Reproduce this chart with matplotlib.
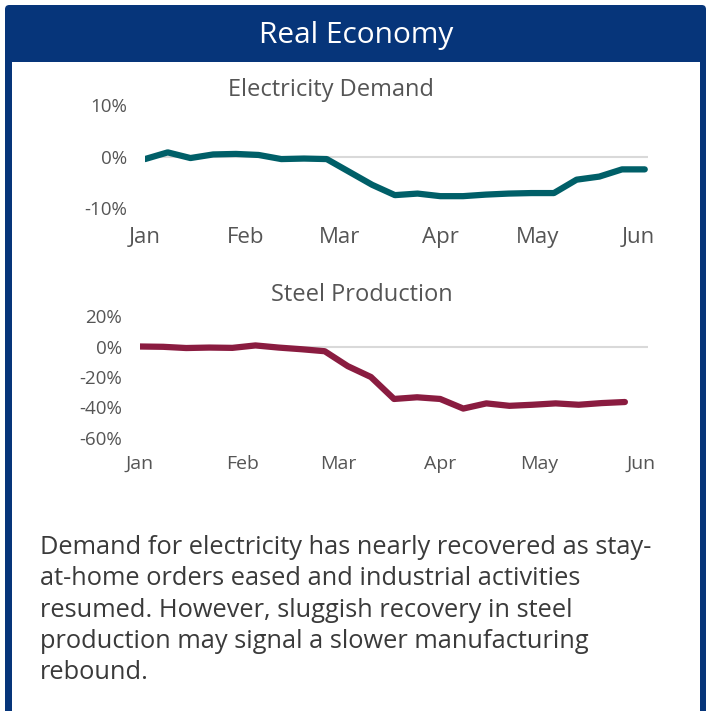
import numpy as np
import matplotlib.pyplot as plt
import matplotlib.dates as mdates
from matplotlib.patches import Rectangle, FancyBboxPatch

# weekly readings, % change year over year
elec_dates = np.arange(np.datetime64('2020-01-01'), np.datetime64('2020-06-04'), np.timedelta64(7, 'D'))
elec_vals = [-0.5, 0.8, -0.3, 0.4, 0.5, 0.3, -0.5, -0.4, -0.5, -3.0, -5.5, -7.5,
             -7.2, -7.7, -7.7, -7.4, -7.2, -7.1, -7.1, -4.5, -3.9, -2.5, -2.5]

steel_dates = np.arange(np.datetime64('2020-01-01'), np.datetime64('2020-05-28'), np.timedelta64(7, 'D'))
steel_vals = [0.0, -0.2, -1.0, -0.7, -0.9, 0.7, -0.7, -1.8, -3.1, -12.9, -20.0, -34.4,
              -33.3, -34.4, -40.7, -37.3, -38.9, -38.2, -37.3, -38.2, -37.1, -36.4]

elec_ticks = [10, 0, -10]
steel_ticks = [20, 0, -20, -40, -60]

body = ("Demand for electricity has nearly recovered as stay-\n"
        "at-home orders eased and industrial activities\n"
        "resumed. However, sluggish recovery in steel\n"
        "production may signal a slower manufacturing\n"
        "rebound.")

plt.rcParams['font.family'] = ['Open Sans', 'DejaVu Sans']
NAVY = '#06357a'
GREY = '#555555'

W, H = 710, 711
fig = plt.figure(figsize=(W / 100, H / 100), dpi=100)


def box(x0, y0, x1, y1):
    # pixel box (top-left origin) -> figure fraction rect
    return [x0 / W, 1 - y1 / H, (x1 - x0) / W, (y1 - y0) / H]


# card frame
fig.patches.append(FancyBboxPatch((5 / W, -0.05), 701 / W, 1 - 5 / H + 0.05,
                                  boxstyle='round,pad=0,rounding_size=0.006',
                                  transform=fig.transFigure, facecolor=NAVY,
                                  edgecolor='none', zorder=-2))
fig.patches.append(Rectangle((12 / W, -0.05), 688 / W, 1 - 62 / H + 0.05,
                             transform=fig.transFigure, facecolor='white',
                             edgecolor='none', zorder=-1))
fig.text(356 / W, 1 - 35 / H, 'Real Economy', color='white', fontsize=21.5,
         ha='center', va='center')


def small_chart(rect, dates, vals, color, ticks, ylim, end, xfs, xpad):
    ax = fig.add_axes(rect)
    ax.axhline(0, color='#d9d9d9', lw=1.5, zorder=1)
    ax.plot(dates, vals, color=color, lw=4.5, solid_capstyle='round',
            solid_joinstyle='round', zorder=2)
    ax.set_xlim(np.datetime64('2020-01-01'), np.datetime64(end))
    ax.set_ylim(*ylim)
    ax.set_yticks(ticks)
    ax.set_yticklabels([f'{t}%' for t in ticks])
    ax.xaxis.set_major_locator(mdates.MonthLocator())
    ax.xaxis.set_major_formatter(mdates.DateFormatter('%b'))
    ax.tick_params(axis='y', length=0, pad=13, labelsize=13.5, labelcolor=GREY)
    ax.tick_params(axis='x', length=0, pad=xpad, labelsize=xfs, labelcolor=GREY)
    for s in ax.spines.values():
        s.set_visible(False)
    ax.patch.set_alpha(0)
    return ax


small_chart(box(145, 105, 648, 208), elec_dates, elec_vals, '#005f68',
            elec_ticks, (-10, 10), '2020-06-04', 16, 14)
small_chart(box(140, 316, 648, 438), steel_dates, steel_vals, '#8a1c40',
            steel_ticks, (-60, 20), '2020-06-03', 14, 12)

fig.text(331 / W, 1 - 90 / H, 'Electricity Demand', fontsize=17, color=GREY,
         ha='center', va='center')
fig.text(362 / W, 1 - 295 / H, 'Steel Production', fontsize=17, color=GREY,
         ha='center', va='center')

fig.text(40 / W, 1 - 535 / H, body, fontsize=18.3, color='#3a3a3a',
         ha='left', va='top', linespacing=1.33)

fig.savefig('out.png', dpi=100)
